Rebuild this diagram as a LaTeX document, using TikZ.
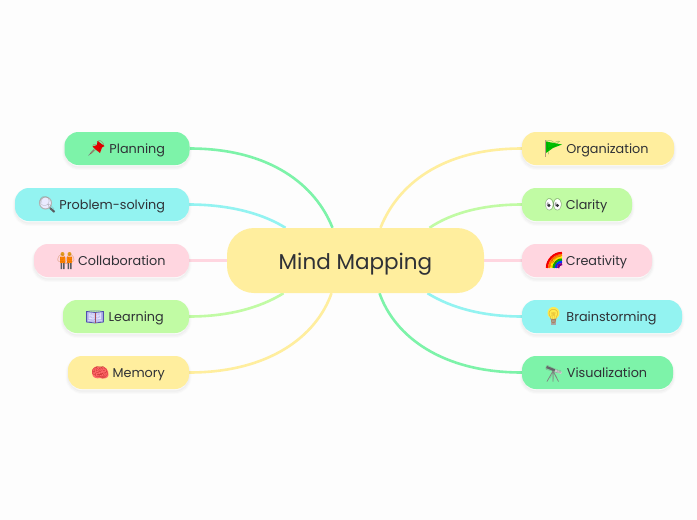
\documentclass[tikz,border=0pt]{standalone}
\usepackage{fontspec}
\setmainfont{Poppins}
\newfontfamily\emo{Noto Emoji}
\usetikzlibrary{calc,backgrounds}
\definecolor{cgreen}{HTML}{7DF3A9}
\definecolor{ccyan}{HTML}{93F3F1}
\definecolor{cpink}{HTML}{FFD6E0}
\definecolor{clime}{HTML}{C1FBA4}
\definecolor{cyellow}{HTML}{FFEE9E}
\definecolor{ink}{HTML}{2F3136}
\definecolor{pagebg}{HTML}{FDFDFD}
\tikzset{
  shadowed/.style={preaction={draw=black,draw opacity=.012,line width=5pt,transform canvas={yshift=-2.5pt}},preaction={draw=black,draw opacity=.018,line width=3pt,transform canvas={yshift=-2.5pt}},preaction={draw=black,draw opacity=.025,line width=1.2pt,transform canvas={yshift=-2pt}}},
  topic/.style={shadowed,rounded corners=14pt,minimum height=33pt,inner sep=0pt,anchor=center,text=ink,text height=10pt,text depth=1pt,font=\fontsize{12.8}{15}\selectfont},
  hub/.style={rounded corners=27pt,minimum height=65pt,minimum width=257pt,inner sep=0pt,fill=cyellow,text=ink,text height=18pt,text depth=1pt,font=\fontsize{21.5}{26}\selectfont},
  link/.style={line width=2.6pt},
  glyph/.style={inner sep=0pt,font=\emo\fontsize{14}{15}\selectfont,text opacity=.45},
}
\newcommand{\lbl}[1]{\hspace{20.5pt}#1}
\newcommand{\lbr}[1]{\hspace{19pt}#1}
\begin{document}
\begin{tikzpicture}[x=1pt,y=-1pt]
\useasboundingbox (0,0) rectangle (697,520);
\node[hub] (hubn) at (355.5,260.5) {Mind Mapping};
\node[topic,fill=cgreen,minimum width=125pt] (planning) at (127,148.5) {\lbl{Planning}};
\node[topic,fill=ccyan,minimum width=174pt] (problem) at (102,204.5) {\lbl{Problem-solving}};
\node[topic,fill=cpink,minimum width=155pt] (collab) at (111.5,260.5) {\lbl{Collaboration}};
\node[topic,fill=clime,minimum width=126pt] (learning) at (126,316.5) {\lbl{Learning}};
\node[topic,fill=cyellow,minimum width=121pt] (memory) at (128.5,372.5) {\lbl{Memory}};
\node[topic,fill=cyellow,minimum width=152pt] (organization) at (598,148.5) {\lbr{Organization}};
\node[topic,fill=clime,minimum width=110pt] (clarity) at (577,204.5) {\lbr{Clarity}};
\node[topic,fill=cpink,minimum width=130pt] (creativity) at (587,260.5) {\lbr{Creativity}};
\node[topic,fill=ccyan,minimum width=160pt] (brainstorming) at (602,316.5) {\lbr{Brainstorming}};
\node[topic,fill=cgreen,minimum width=151pt] (visualization) at (597.5,372.5) {\lbr{Visualization}};
% colour under the emoji glyphs
\fill[red!90!black] (97.5,141) -- (104.5,146) -- (102,147.5) -- (100,153) -- (92.5,146.5) -- (97,145) -- cycle;
\draw[gray,line width=.6pt] (88.5,155.5) -- (94,150);
\fill[blue!8!white,draw=gray!60,line width=1pt] (45.5,203) circle (6);
\draw[ink!80,line width=2pt] (50,208) -- (54.5,212);
\fill[orange!40!brown!80!yellow] (62.5,254) circle (2) (69.5,254) circle (2);
\fill[orange] (60,256.5) rectangle (65,263) (67,256.5) rectangle (72,263);
\fill[ink!80] (60.5,263) rectangle (62,269) (63,263) rectangle (64.5,269) (67.5,263) rectangle (69,269) (70,263) rectangle (71.5,269);
\fill[blue!10!white,draw=blue!35!gray,line width=.8pt] (86.5,311.5) -- (95,312.5) -- (103.5,311.5) -- (103.5,322) -- (95,323) -- (86.5,322) -- cycle;
\draw[red!40!gray,line width=1pt] (95,312.5) -- (95,323);
\fill[red!45!pink] (92,373) .. controls (91,368) and (96,365) .. (100,367) .. controls (105,365) and (109,370) .. (108.5,375) .. controls (108,379) and (103,379) .. (100,378) .. controls (97,379) and (92,378) .. (92,373) -- cycle;
\fill[green!75!black] (546,141.5) -- (562,144.5) -- (553,148) -- (546,153) -- cycle;
\draw[brown!60!gray!80,line width=1pt] (545.7,140) -- (545.7,157);
\fill[white] (549,204.5) ellipse (3.7 and 5.5) (557.5,204.5) ellipse (3.7 and 5.5);
\fill[ink] (549,205.5) circle (1.7) (557.5,205.5) circle (1.7);
\foreach \r/\c in {15/red,12.8/orange,10.6/yellow,8.4/green!70!black,6.2/blue!80!cyan,4/violet}
  \draw[\c,line width=2.3pt] (562,268) ++(-\r,0) arc (180:270:\r);
\fill[yellow!65!white!90!orange] (553.5,313) circle (6);
\fill[gray!70] (551,319) rectangle (556,324.5);
\draw[ink!75,line width=2.4pt] (546.5,367) -- (555,370.5);
\draw[gray!40,line width=2.4pt] (555,370.5) -- (561.5,373);
\draw[gray,line width=.7pt] (553,371) -- (547,381.5) (553,371) -- (553,381.5) (553,371) -- (558.5,381.5);
% the emoji glyphs
\node[glyph,text=red!70!black] (e1) at (97,148) {📌};
\node[glyph,text=gray] (e2) at (47,204) {🔍};
\node[glyph,text=orange!70!black] (e3) at (66,260) {👬};
\node[glyph,text=blue!45!gray] (e4) at (95,316.5) {📖};
\node[glyph,text=red!60!black] (e5) at (100,372.5) {🧠};
\node[glyph,text=green!50!black] (e6) at (553.5,148) {🚩};
\node[glyph,text=ink] (e7) at (553.5,204.5) {👀};
\node[glyph,text=red!70!black] (e8) at (553.5,260) {🌈};
\node[glyph,text=orange!70!black] (e9) at (553.5,316.5) {💡};
\node[glyph,text=gray] (e10) at (553.5,373) {🔭};
\begin{scope}[on background layer]
\fill[pagebg] (0,0) rectangle (697,520);
\draw[link,cgreen] (planning.east) .. controls +(80,0) and +(-17,-43) .. ($(hubn.north)+(-23,0)$);
\draw[link,ccyan] (problem.east) .. controls +(38,0) and +(-24,-15) .. ($(hubn.north)+(-70,0)$);
\draw[link,cpink] (collab.east) -- (hubn.west);
\draw[link,clime] (learning.east) .. controls +(38,0) and +(-24,15) .. ($(hubn.south)+(-72,0)$);
\draw[link,cyellow] (memory.east) .. controls +(80,0) and +(-15,43) .. ($(hubn.south)+(-24,0)$);
\draw[link,cyellow] (organization.west) .. controls +(-80,0) and +(17,-43) .. ($(hubn.north)+(25,0)$);
\draw[link,clime] (clarity.west) .. controls +(-38,0) and +(22,-15) .. ($(hubn.north)+(74,0)$);
\draw[link,cpink] (creativity.west) -- (hubn.east);
\draw[link,ccyan] (brainstorming.west) .. controls +(-38,0) and +(24,15) .. ($(hubn.south)+(72,0)$);
\draw[link,cgreen] (visualization.west) .. controls +(-80,0) and +(15,43) .. ($(hubn.south)+(24,0)$);
\end{scope}
\end{tikzpicture}
\end{document}
